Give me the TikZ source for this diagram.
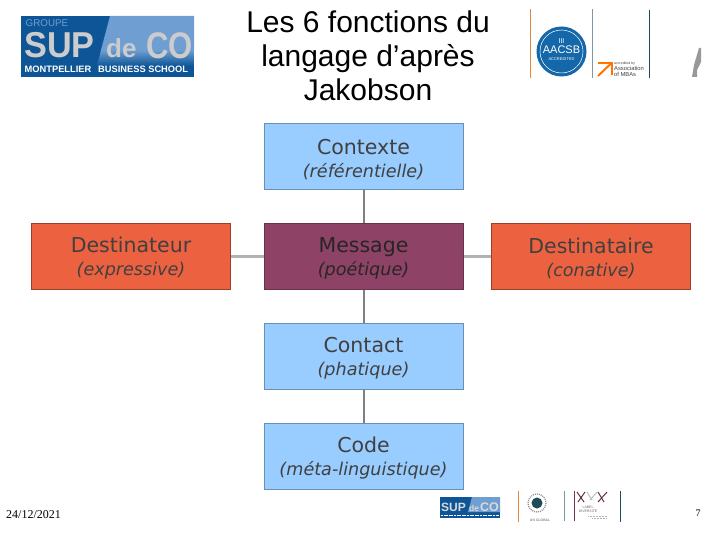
\documentclass[tikz,border=0pt]{standalone}
\usepackage{fontspec}
\setmainfont{Liberation Sans}
\newfontfamily\boxfont{DejaVu Sans}
\newfontfamily\seriffont{Liberation Serif}
\usetikzlibrary{calc}
\definecolor{bluebox}{HTML}{99CCFF}
\definecolor{orangebox}{HTML}{EC6140}
\definecolor{plumbox}{HTML}{8E4266}
\definecolor{navy}{HTML}{0D5596}
\definecolor{sky}{HTML}{6F9FD2}
\definecolor{aacsb}{HTML}{1467A8}
\definecolor{orangeline}{HTML}{E2873B}
\definecolor{tealline}{HTML}{1F4A5A}
\definecolor{greyline}{HTML}{7F98A8}
\tikzset{
  fn/.style={draw=#1, line width=1pt, minimum width=199pt, minimum height=66pt, inner sep=0pt, align=center, text=black!75,
    font=\boxfont\fontsize{20.5}{24}\selectfont},
  bluefn/.style={fn=black!30!bluebox, fill=bluebox},
  orangefn/.style={fn=black!35!orangebox, fill=orangebox},
  plumfn/.style={fn=black!25!plumbox, fill=plumbox, text=black!85},
  vlink/.style={draw=black!50, line width=2pt},
  hlink/.style={draw=black!30, line width=2.2pt},
}
\newcommand{\fnlabel}[2]{\rule{0pt}{19.5pt}#1\\[-1pt]{\fontsize{17.6}{20}\selectfont\itshape (#2)}}
\begin{document}
\begin{tikzpicture}[x=1pt,y=-1pt]
\useasboundingbox (0,0) rectangle (720,540);
% title
\node[align=center, font=\fontsize{30}{34}\selectfont, text=black] (title) at (368,56) {Les 6 fonctions du\\langage d’après\\Jakobson};
% diagram
\node[bluefn] (contexte) at (363.5,157) {\fnlabel{Contexte}{référentielle}};
\node[plumfn] (message) at (363.5,256.5) {\fnlabel{Message}{poétique}};
\node[bluefn] (contact) at (363.5,356) {\fnlabel{Contact}{phatique}};
\node[bluefn] (code) at (363.5,456) {\fnlabel{Code}{méta-linguistique}};
\node[orangefn] (destinateur) at (131,256.5) {\fnlabel{Destinateur}{expressive}};
\node[orangefn] (destinataire) at (591,256.5) {\fnlabel{Destinataire}{conative}};
\draw[vlink] (contexte) -- (message);
\draw[vlink] (message) -- (contact);
\draw[vlink] (contact) -- (code);
\draw[hlink] (destinateur) -- (message);
\draw[hlink] (message) -- (destinataire);
% top-left logo
\fill[navy] (21,16) rectangle (194,77);
\fill[sky] (110,16) -- (194,16) -- (194,50) -- (101,50) -- cycle;
\shade[top color=sky, bottom color=navy] (101,50) -- (194,50) -- (194,66) -- (97,66) -- cycle;
\node[anchor=west, inner sep=0pt, text=sky, font=\fontsize{9.8}{9.8}\selectfont] (lgroupe) at (25.5,23.5) {GROUPE};
\node[anchor=west, inner sep=0pt, text=black!20, xscale=0.95, font=\bfseries\fontsize{36}{30}\selectfont] (lsup) at (24,45.5) {SUP};
\node[anchor=west, inner sep=0pt, text=black!20, font=\bfseries\fontsize{26}{24}\selectfont] (lde) at (106,48) {de};
\node[anchor=west, inner sep=0pt, text=black!20, xscale=0.84, font=\bfseries\fontsize{37}{30}\selectfont] (lco) at (146,45.5) {CO};
\node[anchor=west, inner sep=0pt, text=white, font=\bfseries\fontsize{9.3}{9.3}\selectfont] (lmont) at (24.5,69) {MONTPELLIER};
\node[anchor=west, inner sep=0pt, text=white, font=\bfseries\fontsize{9.3}{9.3}\selectfont] (lbus) at (98,69) {BUSINESS SCHOOL};
% top-right accreditations
\draw[orangeline, line width=0.8pt] (530,9) -- (530,78);
\draw[greyline, line width=0.8pt] (592,9) -- (592,78);
\draw[tealline, line width=0.8pt] (649,10) -- (649,78);
\fill[aacsb] (561.5,51.5) circle (25);
\draw[white, line width=0.5pt] (561.5,51.5) circle (21.5);
\node[inner sep=0pt, text=white, font=\fontsize{7}{7}\selectfont] (liii) at (561.5,41) {III};
\node[inner sep=0pt, text=white, font=\fontsize{11}{11}\selectfont] (laacsb) at (561.5,50) {AACSB};
\node[inner sep=0pt, text=white, font=\fontsize{4}{4}\selectfont] (lacc) at (561.5,59) {ACCREDITED};
\draw[orange!90!red, line width=2pt] (598,76) -- (611,63.5);
\draw[orange!90!red, line width=2pt] (598,63) -- (611.5,63) -- (611.5,75);
\node[anchor=west, inner sep=0pt, align=left, text=black!75, font=\fontsize{5.8}{6.2}\selectfont] (lamba) at (614,69) {\fontsize{3.5}{4}\selectfont accredited by\\Association\\of MBAs};
\fill[black!40] (699,48) -- (701,48) -- (701,62) -- (697,70) -- (697,77) -- (692,77) -- (694,65) -- cycle;
% bottom
\node[anchor=west, inner sep=0pt, font=\seriffont\fontsize{12}{12}\selectfont] (date) at (6,514.5) {24/12/2021};
\node[anchor=center, inner sep=0pt, font=\seriffont\fontsize{10}{10}\selectfont] (pnum) at (698,513.5) {7};
% bottom small logo
\fill[navy] (440,497) rectangle (500,518);
\fill[sky] (472,497) -- (500,497) -- (500,512) -- (468,512) -- cycle;
\node[anchor=west, inner sep=0pt, text=black!15, font=\bfseries\fontsize{12}{12}\selectfont] (bsup) at (441,507.5) {SUP};
\node[anchor=west, inner sep=0pt, text=black!15, font=\bfseries\fontsize{8.5}{8.5}\selectfont] (bde) at (469,508) {de};
\node[anchor=west, inner sep=0pt, text=black!15, font=\bfseries\fontsize{12.5}{12.5}\selectfont] (bco) at (480,507.5) {CO};
\draw[white, line width=1.1pt, dash pattern=on 2pt off 0.6pt] (441,515.5) -- (499,515.5);
% bottom accreditations
\draw[orangeline, line width=0.7pt] (518,491) -- (518,522);
\draw[greyline, line width=0.7pt] (564,491) -- (564,521);
\draw[plumbox!80!black, line width=0.7pt] (574,491) -- (574,521);
\draw[tealline, line width=0.7pt] (620,491) -- (620,522);
\fill[tealline] (537,503) circle (5.5);
\draw[black!45, line width=1.2pt, dash pattern=on 1pt off 1pt] (537,503) circle (9);
\node[inner sep=0pt, text=black!65, font=\fontsize{3.5}{3.5}\selectfont] (bep) at (540,520) {UN GLOBAL};
\draw[plumbox!70!black, line width=1pt] (577,492) -- (584,502) (578,502) -- (585,492) (598,492) -- (604,502) (598,502) -- (607,492);
\draw[black!25, line width=1pt] (587,492) -- (592,500) (597,492) -- (590,500);
\node[inner sep=0pt, align=center, text=black!60, font=\fontsize{3.5}{4}\selectfont] (bmid) at (588,509) {LABEL\\DIVERSITÉ};
\draw[black!30, line width=1pt, dash pattern=on 1pt off 0.5pt] (588,516) -- (607,516) (592,518.5) -- (607,518.5);
\end{tikzpicture}
\end{document}
